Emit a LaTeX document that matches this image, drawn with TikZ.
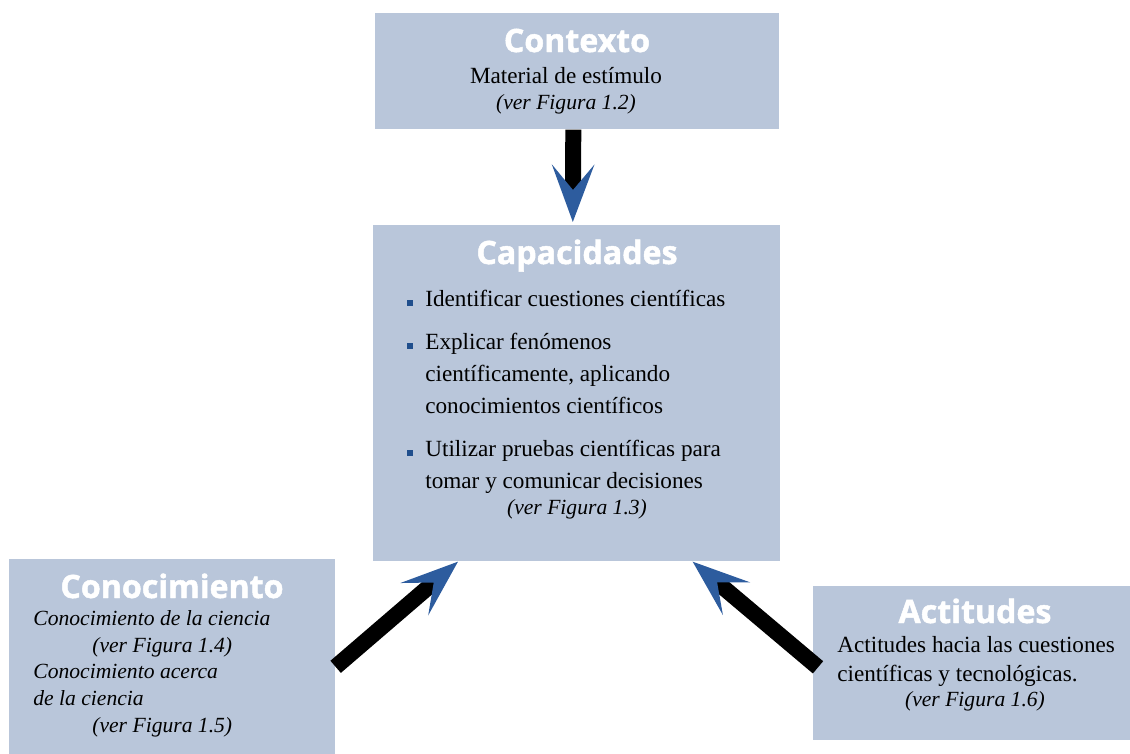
\documentclass[tikz,border=0pt]{standalone}
\usepackage{fontspec}
\setmainfont{Liberation Serif}
\newfontfamily\titlefont{Open Sans}[BoldFeatures={FakeBold=1.5}]
\usetikzlibrary{arrows.meta}
\usetikzlibrary{calc}

\definecolor{boxblue}{RGB}{185,198,218}
\definecolor{bulletblue}{RGB}{31,78,140}
\definecolor{arrowblue}{RGB}{45,92,158}

\begin{document}
\begin{tikzpicture}[
    x=0.02cm, y=-0.02cm,
    box/.style={fill=boxblue, inner sep=0pt, anchor=north west},
    title/.style={font=\titlefont\bfseries\fontsize{18.3}{20}\selectfont, text=white, inner sep=0pt, anchor=base},
    txt/.style={font=\fontsize{13.2}{15}\selectfont, inner sep=0pt, anchor=base west},
    ital/.style={font=\fontsize{12.3}{15}\selectfont\itshape, inner sep=0pt, anchor=base west},
    bullet/.style={fill=bulletblue, inner sep=0pt, minimum size=0.11cm},
    flow/.style={draw=black, line width=0.32cm, -{Stealth[length=1.14cm, width=0.84cm, inset=0.5cm, color=arrowblue]}},
]
\useasboundingbox (0,0) rectangle (1130,754);

% boxes
\node[box, minimum width=8.08cm, minimum height=2.32cm] (ctx) at (375,13) {};
\node[box, minimum width=8.14cm, minimum height=6.72cm] (cap) at (373,225) {};
\node[box, minimum width=6.52cm, minimum height=3.9cm] (cono) at (9,559) {};
\node[box, minimum width=6.34cm, minimum height=3.08cm] (act) at (813,586) {};

% contexto
\node[title] (ctxt) at (577,52) {Contexto};
\node[txt, anchor=base] (ctx1) at (566,83) {Material de estímulo};
\node[ital, anchor=base] (ctx2) at (566,109) {(ver Figura 1.2)};

% capacidades
\node[title] (capt) at (577,264) {Capacidades};
\foreach \i/\y in {1/306, 2/349, 3/456}
    \node[bullet] (b\i) at (410,\y-3) {};
\foreach \i/\y/\t in {1/306/{Identificar cuestiones científicas},
                      2/349/{Explicar fenómenos},
                      3/381/{científicamente, aplicando},
                      4/413/{conocimientos científicos},
                      5/456/{Utilizar pruebas científicas para},
                      6/488/{tomar y comunicar decisiones}}
    \node[txt] (cap\i) at (425,\y) {\t};
\node[ital, anchor=base] (capref) at (577,514) {(ver Figura 1.3)};

% conocimiento
\node[title] (conot) at (172,598) {Conocimiento};
\foreach \i/\x/\y/\t in {1/33/625/{Conocimiento de la ciencia},
                         2/92/652/{(ver Figura 1.4)},
                         3/33/678/{Conocimiento acerca},
                         4/33/705/{de la ciencia},
                         5/92/732/{(ver Figura 1.5)}}
    \node[ital] (cono\i) at (\x,\y) {\t};

% actitudes
\node[title] (actt) at (975,623) {Actitudes};
\node[txt] (act1) at (837,652) {Actitudes hacia las cuestiones};
\node[txt] (act2) at (837,681) {científicas y tecnológicas.};
\node[ital, anchor=base] (act3) at (975,706) {(ver Figura 1.6)};

% arrows
\draw[flow] ($(ctx.south)+(-4,0)$) -- ($(cap.north)+(-4,-3)$);
\draw[flow] ($(cono.east)+(0,10)$) -- ($(cap.south west)+(85,0)$);
\draw[flow] ($(act.west)+(5,4)$) -- ($(cap.south east)+(-88,0)$);
\end{tikzpicture}
\end{document}
